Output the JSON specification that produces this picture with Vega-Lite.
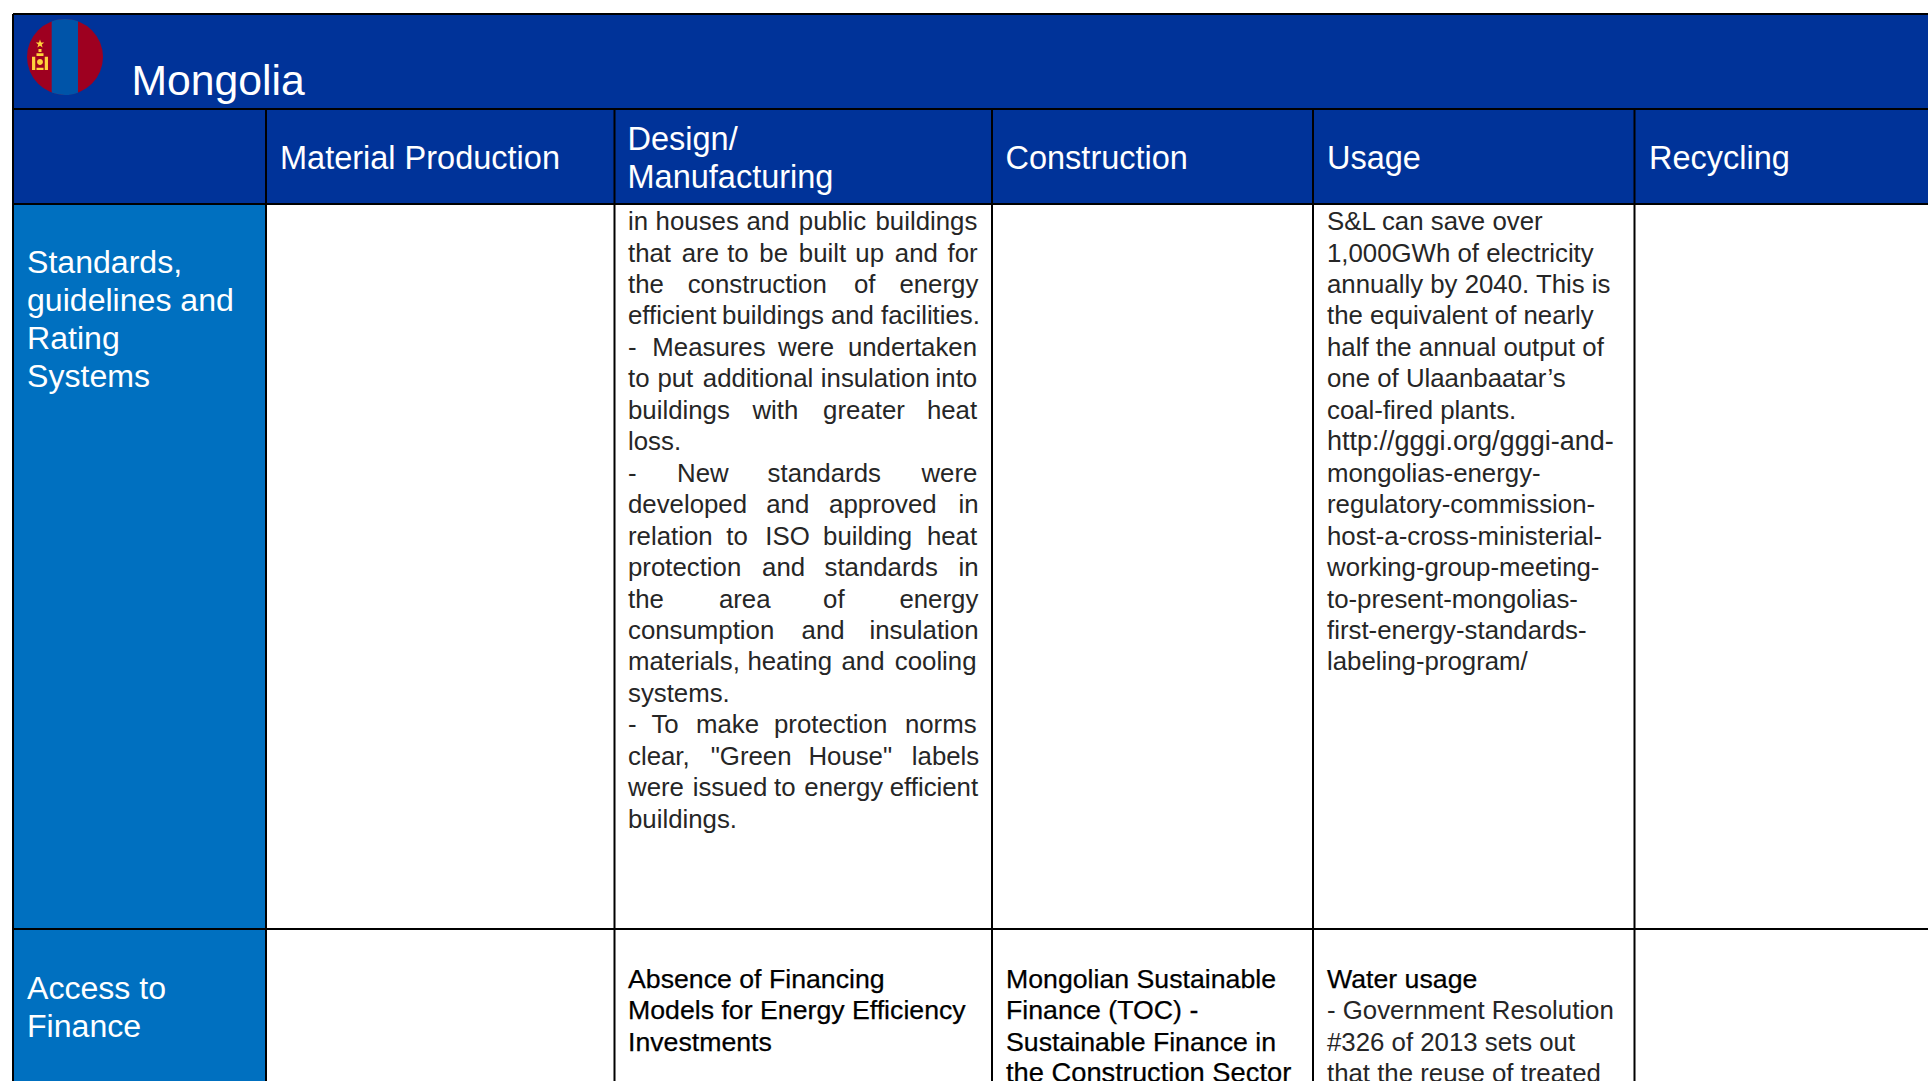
{"$schema":"https://vega.github.io/schema/vega-lite/v6.json","autosize":{"type":"none"},"padding":0,"width":1928,"height":1081,"background":"#ffffff","config":{"view":{"stroke":null}},
"datasets":{
"panels":[{"zone":"title","x":13,"x2":1928,"y":14,"y2":109},{"zone":"header","x":13,"x2":1928,"y":109,"y2":204},{"zone":"side","x":13,"x2":266,"y":204,"y2":1081}],
"lines":[{"x":13,"x2":1928,"y":14,"y2":14},{"x":13,"x2":1928,"y":109,"y2":109},{"x":13,"x2":1928,"y":204,"y2":204},{"x":13,"x2":1928,"y":929,"y2":929},{"x":13,"x2":13,"y":14,"y2":1081},{"x":266,"x2":266,"y":109,"y2":1081},{"x":614.5,"x2":614.5,"y":109,"y2":1081},{"x":992,"x2":992,"y":109,"y2":1081},{"x":1313,"x2":1313,"y":109,"y2":1081},{"x":1634.5,"x2":1634.5,"y":109,"y2":1081}],
"flag":[{"x":65,"y":57}],
"emblem":[{"x":40,"y":57}],
"title":[{"t":"Mongolia","x":131.5,"y":95}],
"heads":[{"t":"Material Production","x":280,"y":169},{"t":"Design/","x":627.5,"y":150},{"t":"Manufacturing","x":627.5,"y":187.5},{"t":"Construction","x":1005.5,"y":169},{"t":"Usage","x":1327,"y":169},{"t":"Recycling","x":1649,"y":169}],
"side":[{"t":"Standards,","x":27,"y":273.3},{"t":"guidelines and","x":27,"y":311},{"t":"Rating","x":27,"y":348.8},{"t":"Systems","x":27,"y":386.5},{"t":"Access to","x":27,"y":999.2},{"t":"Finance","x":27,"y":1037}],
"strong":[{"t":"Absence of Financing","x":628,"y":987.5},{"t":"Models for Energy Efficiency","x":628,"y":1019},{"t":"Investments","x":628,"y":1050.5},{"t":"Mongolian Sustainable","x":1006,"y":987.5},{"t":"Finance (TOC) -","x":1006,"y":1019},{"t":"Sustainable Finance in","x":1006,"y":1050.5},{"t":"Water usage","x":1327,"y":987.5}],
"strongWide":[{"t":"the Construction Sector","x":1006,"y":1082}],
"bodyWide":[{"t":"http://gggi.org/gggi-and-","x":1327,"y":450.6}],
"body":[
{"t":"in","x":628,"y":230.4},{"t":"houses","x":655.6,"y":230.4},{"t":"and","x":746.5,"y":230.4},{"t":"public","x":798.8,"y":230.4},{"t":"buildings","x":875.5,"y":230.4},
{"t":"that","x":628,"y":261.9},{"t":"are","x":681.7,"y":261.9},{"t":"to","x":727.2,"y":261.9},{"t":"be","x":759.3,"y":261.9},{"t":"built","x":798.8,"y":261.9},{"t":"up","x":855.3,"y":261.9},{"t":"and","x":894.8,"y":261.9},{"t":"for","x":947.6,"y":261.9},
{"t":"the","x":628,"y":293.3},{"t":"construction","x":687.7,"y":293.3},{"t":"of","x":853.9,"y":293.3},{"t":"energy","x":899.4,"y":293.3},
{"t":"efficient","x":628,"y":324.8},{"t":"buildings","x":722.1,"y":324.8},{"t":"and","x":830.9,"y":324.8},{"t":"facilities.","x":881,"y":324.8},
{"t":"-","x":628,"y":356.2},{"t":"Measures","x":652.3,"y":356.2},{"t":"were","x":778.1,"y":356.2},{"t":"undertaken","x":847.9,"y":356.2},
{"t":"to","x":628,"y":387.7},{"t":"put","x":657.4,"y":387.7},{"t":"additional","x":702.8,"y":387.7},{"t":"insulation","x":820.8,"y":387.7},{"t":"into","x":935.6,"y":387.7},
{"t":"buildings","x":628,"y":419.2},{"t":"with","x":752.4,"y":419.2},{"t":"greater","x":823.1,"y":419.2},{"t":"heat","x":926.9,"y":419.2},
{"t":"loss.","x":628,"y":450.6},
{"t":"-","x":628,"y":482.1},{"t":"New","x":677.1,"y":482.1},{"t":"standards","x":767.6,"y":482.1},{"t":"were","x":921.4,"y":482.1},
{"t":"developed","x":628,"y":513.5},{"t":"and","x":766.2,"y":513.5},{"t":"approved","x":829.1,"y":513.5},{"t":"in","x":958.6,"y":513.5},
{"t":"relation","x":628,"y":545},{"t":"to","x":726.3,"y":545},{"t":"ISO","x":765.3,"y":545},{"t":"building","x":823.1,"y":545},{"t":"heat","x":926.9,"y":545},
{"t":"protection","x":628,"y":576.5},{"t":"and","x":762.1,"y":576.5},{"t":"standards","x":824.5,"y":576.5},{"t":"in","x":958.6,"y":576.5},
{"t":"the","x":628,"y":607.9},{"t":"area","x":718.9,"y":607.9},{"t":"of","x":823.1,"y":607.9},{"t":"energy","x":899.4,"y":607.9},
{"t":"consumption","x":628,"y":639.4},{"t":"and","x":801.6,"y":639.4},{"t":"insulation","x":869.5,"y":639.4},
{"t":"materials,","x":628,"y":670.8},{"t":"heating","x":747.4,"y":670.8},{"t":"and","x":841.5,"y":670.8},{"t":"cooling","x":894.8,"y":670.8},
{"t":"systems.","x":628,"y":702.3},
{"t":"-","x":628,"y":733.8},{"t":"To","x":651.4,"y":733.8},{"t":"make","x":696,"y":733.8},{"t":"protection","x":774,"y":733.8},{"t":"norms","x":904.9,"y":733.8},
{"t":"clear,","x":628,"y":765.2},{"t":"\"Green","x":710.7,"y":765.2},{"t":"House\"","x":808.4,"y":765.2},{"t":"labels","x":911.8,"y":765.2},
{"t":"were","x":628,"y":796.7},{"t":"issued","x":692.7,"y":796.7},{"t":"to","x":774,"y":796.7},{"t":"energy","x":804.3,"y":796.7},{"t":"efficient","x":889.7,"y":796.7},
{"t":"buildings.","x":628,"y":828.1},
{"t":"S&L can save over","x":1327,"y":230.4},{"t":"1,000GWh of electricity","x":1327,"y":261.9},{"t":"annually by 2040. This is","x":1327,"y":293.3},{"t":"the equivalent of nearly","x":1327,"y":324.8},{"t":"half the annual output of","x":1327,"y":356.2},{"t":"one of Ulaanbaatar’s","x":1327,"y":387.7},{"t":"coal-fired plants.","x":1327,"y":419.2},{"t":"mongolias-energy-","x":1327,"y":482.1},{"t":"regulatory-commission-","x":1327,"y":513.5},{"t":"host-a-cross-ministerial-","x":1327,"y":545},{"t":"working-group-meeting-","x":1327,"y":576.5},{"t":"to-present-mongolias-","x":1327,"y":607.9},{"t":"first-energy-standards-","x":1327,"y":639.4},{"t":"labeling-program/","x":1327,"y":670.8},
{"t":"- Government Resolution","x":1327,"y":1019.5},{"t":"#326 of 2013 sets out","x":1327,"y":1051},{"t":"that the reuse of treated","x":1327,"y":1082}
]},
"encoding":{"x":{"field":"x","type":"quantitative","scale":{"domain":[0,1928],"nice":false,"zero":false},"axis":null},"y":{"field":"y","type":"quantitative","scale":{"domain":[0,1081],"reverse":true,"nice":false,"zero":false},"axis":null}},
"layer":[
{"data":{"name":"panels"},"mark":{"type":"rect"},"encoding":{"x2":{"field":"x2"},"y2":{"field":"y2"},"color":{"field":"zone","type":"nominal","legend":null,"scale":{"domain":["title","header","side"],"range":["#003399","#003399","#0070C0"]}}}},
{"data":{"name":"lines"},"mark":{"type":"rule","color":"#000000","strokeWidth":2},"encoding":{"x2":{"field":"x2"},"y2":{"field":"y2"}}},
{"data":{"name":"flag"},"mark":{"type":"point","shape":"circle","filled":true,"size":5776,"fill":"#9E0020","opacity":1,"stroke":null}},
{"data":{"name":"flag"},"mark":{"type":"point","filled":true,"size":5776,"fill":"#0054A8","opacity":1,"stroke":null,"shape":"M-0.35,-0.937A1,1 0 0 1 0.342,-0.94L0.342,0.94A1,1 0 0 1 -0.35,0.937Z"}},
{"data":{"name":"emblem"},"mark":{"type":"point","filled":true,"size":784,"fill":"#FFD23C","opacity":1,"stroke":null,"shape":"M0,-1.25L.076,-1.035L.304,-1.029L.124,-.89L.188,-.671L0,-.8L-.188,-.671L-.124,-.89L-.304,-1.029L-.076,-1.035ZM-.107,-.57L.107,-.57L.107,-.36L-.107,-.36ZM-.57,-.02L-.34,-.02L-.34,.93L-.57,.93ZM.34,-.02L.57,-.02L.57,.93L.34,.93ZM-.25,-.264L.25,-.264L.25,-.07L-.25,-.07ZM-.25,.76L.25,.76L.25,.93L-.25,.93ZM-.21,.357A.21,.21 0 1 1 .21,.357A.21,.21 0 1 1 -.21,.357Z"}},
{"data":{"name":"title"},"mark":{"type":"text","font":"Liberation Sans","fontSize":42.7,"align":"left","baseline":"alphabetic","color":"#ffffff","clip":true},"encoding":{"text":{"field":"t"}}},
{"data":{"name":"heads"},"mark":{"type":"text","font":"Liberation Sans","fontSize":32.5,"align":"left","baseline":"alphabetic","color":"#ffffff","clip":true},"encoding":{"text":{"field":"t"}}},
{"data":{"name":"side"},"mark":{"type":"text","font":"Liberation Sans","fontSize":32.1,"align":"left","baseline":"alphabetic","color":"#ffffff","clip":true},"encoding":{"text":{"field":"t"}}},
{"data":{"name":"strong"},"mark":{"type":"text","font":"Liberation Sans","fontSize":26.7,"align":"left","baseline":"alphabetic","color":"#000000","stroke":"#000000","strokeWidth":0.25,"clip":true},"encoding":{"text":{"field":"t"}}},
{"data":{"name":"strongWide"},"mark":{"type":"text","font":"Liberation Sans","fontSize":27.3,"align":"left","baseline":"alphabetic","color":"#000000","stroke":"#000000","strokeWidth":0.25,"clip":true},"encoding":{"text":{"field":"t"}}},
{"data":{"name":"body"},"mark":{"type":"text","font":"Liberation Sans","fontSize":25.8,"dy":-0.4,"align":"left","baseline":"alphabetic","color":"#262626","clip":true},"encoding":{"text":{"field":"t"}}},
{"data":{"name":"bodyWide"},"mark":{"type":"text","font":"Liberation Sans","fontSize":27,"dy":-0.4,"align":"left","baseline":"alphabetic","color":"#262626","clip":true},"encoding":{"text":{"field":"t"}}}
]}
